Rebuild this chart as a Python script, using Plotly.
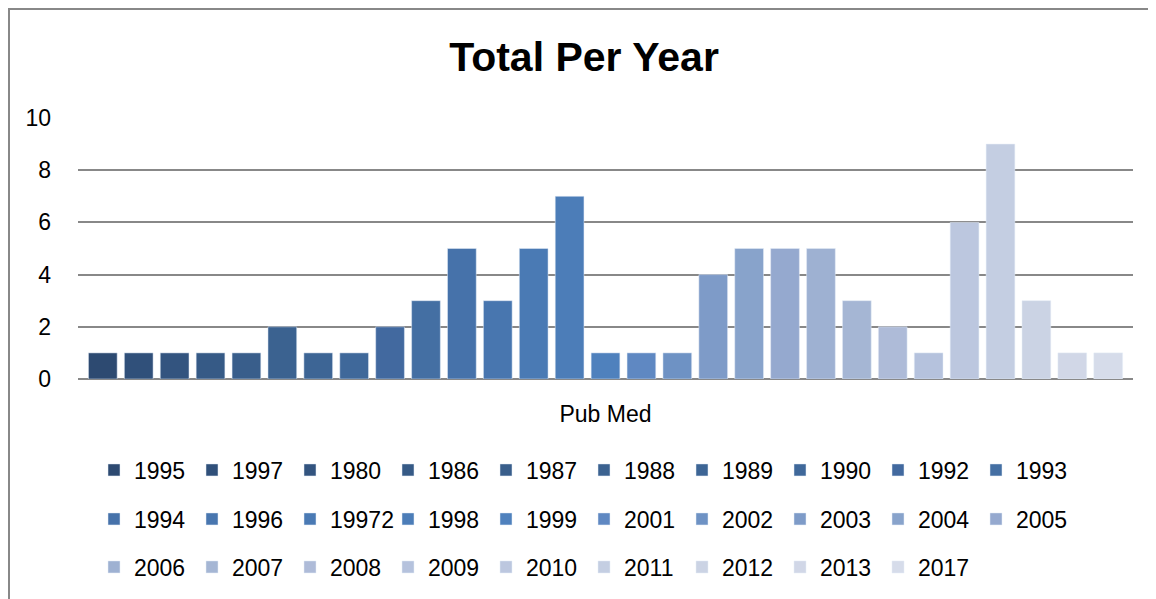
import plotly.graph_objects as go

years = ["1995", "1997", "1980", "1986", "1987", "1988", "1989", "1990", "1992", "1993",
         "1994", "1996", "19972", "1998", "1999", "2001", "2002", "2003", "2004", "2005",
         "2006", "2007", "2008", "2009", "2010", "2011", "2012", "2013", "2017"]
counts = [1, 1, 1, 1, 1, 2, 1, 1, 2, 3,
          5, 3, 5, 7, 1, 1, 1, 4, 5, 5,
          5, 3, 2, 1, 6, 9, 3, 1, 1]
colors = ["#2D4A71", "#30507A", "#33547F", "#365A86", "#395E8B", "#3B6290", "#3D6595",
          "#3F689A", "#42699F", "#446FA3", "#4672AA", "#4876AF", "#4A7AB4", "#4C7DB8",
          "#4F81BD", "#5F88C2", "#6E92C4", "#7E9BC8", "#88A3CB", "#95A9CF", "#9EB1D2",
          "#A5B6D4", "#AEBBD8", "#B5C2DD", "#BCC7DF", "#C4CEE2", "#CBD3E4", "#D1D7E7",
          "#D6DCEA"]
category = "Pub Med"

FONT = "Liberation Sans"
fig = go.Figure()
legend_ids = ["legend", "legend2", "legend3"]
for i, (yr, v, c) in enumerate(zip(years, counts, colors)):
    fig.add_trace(go.Bar(x=[category], y=[v], name=yr, marker_color=c,
                         legend=legend_ids[i // 10]))

# page body has an 8px margin; work in figure-local pixels
OFF = 8
W, H = 1156 - OFF, 599 - OFF
plot_l, plot_r, plot_t, plot_b = 78 - OFF, 1133 - OFF, 118 - OFF, 379 - OFF
ph = plot_b - plot_t
pw = plot_r - plot_l

def py(ypix):
    return (plot_b - (ypix - OFF)) / ph

def px(xpix):
    return ((xpix - OFF) - plot_l) / pw

def cx(xpix):
    return (xpix - OFF) / W

def cy(ypix):
    return 1 - (ypix - OFF) / H

leg_common = dict(orientation="h", xanchor="left", yanchor="middle",
                  xref="container", yref="container",
                  entrywidth=53, entrywidthmode="pixels",
                  font=dict(family=FONT, size=23, color="black"),
                  bgcolor="rgba(0,0,0,0)", traceorder="normal")

fig.update_layout(
    width=W, height=H,
    margin=dict(l=plot_l, r=W - plot_r, t=plot_t, b=H - plot_b),
    paper_bgcolor="white", plot_bgcolor="white",
    font=dict(family=FONT, size=23, color="black"),
    title=dict(text="<b>Total Per Year</b>", x=cx(584), xref="container", xanchor="center",
               y=cy(57), yref="container", yanchor="middle",
               font=dict(family=FONT, size=41, color="black")),
    barmode="group", bargap=0.013, bargroupgap=0.2,
    xaxis=dict(showgrid=False, showline=False, ticks="", ticklabelstandoff=19,
               tickfont=dict(size=23)),
    yaxis=dict(range=[0, 10], dtick=2, showgrid=True, gridcolor="#888888", gridwidth=2,
               zeroline=True, zerolinecolor="#888888", zerolinewidth=2,
               showline=False, ticks="", ticklabelstandoff=26, tickfont=dict(size=23)),
    legend=dict(x=cx(94), y=cy(470), **leg_common),
    legend2=dict(x=cx(94), y=cy(519), **leg_common),
    legend3=dict(x=cx(94), y=cy(567), **leg_common),
    shapes=[dict(type="rect", xref="paper", yref="paper",
                 x0=px(OFF + 1), x1=px(1180), y0=py(640), y1=py(OFF + 1),
                 line=dict(color="#888888", width=2), fillcolor="rgba(0,0,0,0)", layer="below")],
)

fig.write_html("out.html")
